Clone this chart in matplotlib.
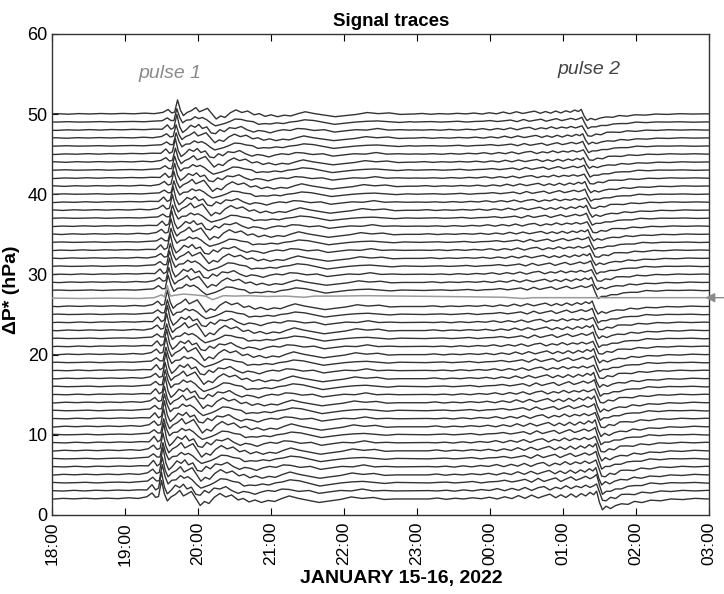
import numpy as np
import matplotlib
matplotlib.use("Agg")
import matplotlib.pyplot as plt

plt.rcParams['font.family'] = ['Liberation Sans', 'DejaVu Sans']

# hours after 18:00 on Jan 15
tick_hours = [0, 1, 2, 3, 4, 5, 6, 7, 8, 9]
tick_labels = ["18:00", "19:00", "20:00", "21:00", "22:00",
               "23:00", "00:00", "01:00", "02:00", "03:00"]

# trace offsets (hPa), bottom to top
baselines = [2, 3, 4, 5, 6, 7, 8, 9, 10,
             11, 12, 13, 14, 15, 16, 17, 18, 19, 20,
             21, 22, 23, 24, 25, 26, 27, 28, 29, 30,
             31, 32, 33, 34, 35, 36, 37, 38, 39, 40,
             41, 42, 43, 44, 45, 46, 47, 48, 49, 50]
gray_idx = 25  # highlighted trace (offset 27)

# peak time of pulse 1 / pulse 2 on each trace (hours after 18:00)
arrival1 = [1.50, 1.50, 1.51, 1.51, 1.52, 1.52, 1.52, 1.53, 1.53,
            1.53, 1.54, 1.54, 1.54, 1.55, 1.55, 1.55, 1.56, 1.56, 1.56,
            1.57, 1.57, 1.57, 1.58, 1.58, 1.58, 1.59, 1.59, 1.60, 1.61,
            1.61, 1.62, 1.62, 1.63, 1.63, 1.64, 1.65, 1.65, 1.66, 1.67,
            1.67, 1.68, 1.68, 1.69, 1.69, 1.70, 1.70, 1.71, 1.71, 1.72]
arrival2 = [7.46, 7.46, 7.46, 7.45, 7.45, 7.45, 7.45, 7.44, 7.44,
            7.44, 7.44, 7.43, 7.43, 7.43, 7.43, 7.42, 7.42, 7.42, 7.42,
            7.41, 7.41, 7.41, 7.41, 7.40, 7.40, 7.40, 7.40, 7.39, 7.39,
            7.38, 7.37, 7.36, 7.35, 7.34, 7.33, 7.32, 7.32, 7.31, 7.30,
            7.30, 7.29, 7.29, 7.28, 7.28, 7.27, 7.27, 7.26, 7.26, 7.25]
amp1 = [1.25, 1.2, 1.3, 1.2, 1.25, 1.15, 1.2, 1.25, 1.15,
        1.2, 1.15, 1.2, 1.1, 1.15, 1.2, 1.1, 1.15, 1.1, 1.15,
        1.1, 1.05, 1.15, 1.1, 1.05, 1.1, 1.05, 1.1, 1.0, 1.05,
        1.1, 1.0, 1.05, 1.0, 1.05, 1.0, 0.95, 1.05, 1.0, 0.95,
        1.0, 0.95, 1.0, 0.95, 1.0, 0.95, 0.9, 1.0, 0.95, 0.95]
amp2 = [1.5, 1.45, 1.5, 1.4, 1.45, 1.35, 1.4, 1.35, 1.3,
        1.35, 1.3, 1.25, 1.3, 1.2, 1.25, 1.2, 1.15, 1.2, 1.15,
        1.1, 1.15, 1.1, 1.05, 1.1, 1.05, 1.0, 1.05, 1.0, 1.0,
        1.0, 0.95, 1.0, 0.95, 0.9, 0.95, 0.9, 0.95, 0.9, 0.9,
        0.9, 0.85, 0.9, 0.85, 0.9, 0.85, 0.85, 0.9, 0.85, 0.9]

# pulse 1 waveform, hours relative to peak, three observed shapes
pulse1_t = [-1.8, -1.65, -1.5, -1.35, -1.2,
            -1.05, -0.9, -0.75, -0.6, -0.45,
            -0.32, -0.2,
            -0.13, -0.08, -0.04,
            0.0, 0.04, 0.08, 0.13, 0.19,
            0.25, 0.30, 0.35, 0.41, 0.47,
            0.53, 0.59, 0.65, 0.72, 0.80,
            0.88, 0.96, 1.05, 1.12, 1.20,
            1.28, 1.37, 1.46, 1.55, 1.65,
            1.75, 1.88, 2.02, 2.16, 2.30,
            2.45, 2.60, 2.75, 2.90, 3.05,
            3.20]
pulse1_a = [0.00, 0.05, -0.02, 0.06, 0.01,
            0.07, 0.02, 0.08, 0.03, 0.12,
            0.05, 0.22,
            0.60, 0.15, 0.25,
            1.85, 0.50, -0.20, 0.20, 0.45,
            0.85, 0.30, 0.50, 0.75, 0.05,
            -0.65, -0.25, -0.45, 0.15, 0.55,
            0.20, 0.40, -0.10, 0.05, -0.30,
            -0.10, -0.35, -0.15, -0.25, 0.05,
            0.30, 0.05, -0.15, -0.35, -0.20,
            -0.05, 0.20, 0.05, 0.15, -0.05,
            0.00]
pulse1_b = [0.00, -0.04, 0.03, -0.01, 0.06,
            0.00, 0.07, 0.03, 0.09, 0.05,
            0.12, 0.10,
            0.65, 0.10, 0.30,
            1.95, 0.40, -0.30, 0.05, 0.60,
            0.35, 0.70, 0.20, 0.40, -0.35,
            -0.45, 0.05, -0.20, 0.30, 0.20,
            0.45, 0.05, -0.25, -0.05, -0.15,
            -0.35, -0.10, 0.05, -0.05, 0.20,
            0.15, -0.05, 0.05, -0.25, -0.10,
            0.05, 0.00, 0.20, 0.00, 0.05,
            0.00]
pulse1_c = [0.02, 0.00, 0.05, 0.00, 0.02,
            0.06, 0.00, 0.05, 0.08, 0.04,
            0.12, 0.18,
            0.55, 0.20, 0.20,
            1.75, 0.60, -0.10, 0.25, 0.30,
            0.70, 0.45, 0.60, 0.30, -0.15,
            -0.50, -0.35, -0.20, 0.05, 0.40,
            0.35, 0.15, 0.05, -0.30, -0.20,
            -0.25, -0.10, -0.20, 0.00, 0.10,
            0.30, 0.20, -0.05, -0.30, -0.15,
            0.00, 0.10, 0.15, 0.05, -0.05,
            0.05]

# pulse 2 waveform, hours relative to peak before the drop
pulse2_t = [-2.30, -2.18, -2.06, -1.94, -1.82,
            -1.70, -1.58, -1.47, -1.36, -1.26,
            -1.16, -1.07, -0.98, -0.89, -0.80,
            -0.72, -0.64, -0.56, -0.49, -0.42,
            -0.35, -0.28, -0.21, -0.15, -0.09,
            -0.04, 0.00, 0.04, 0.08, 0.13,
            0.19, 0.26, 0.34, 0.43, 0.52,
            0.62, 0.74, 0.88, 1.02, 1.18,
            1.35, 1.52, 1.70, 1.90]
pulse2_a = [0.00, 0.08, -0.03, 0.06, 0.00,
            0.10, 0.02, 0.14, 0.00, 0.18,
            0.03, 0.28, 0.05, 0.32, 0.08,
            0.25, 0.40, 0.10, 0.35, 0.12,
            0.42, 0.15, 0.45, 0.25, 0.55,
            0.35, 0.65, -0.30, -0.90, -0.60,
            -0.80, -0.55, -0.40, -0.45, -0.20,
            -0.30, -0.10, -0.15, 0.00, -0.05,
            0.05, 0.00, 0.03, 0.00]
pulse2_b = [0.03, 0.00, 0.06, -0.02, 0.09,
            0.00, 0.12, 0.04, 0.20, 0.02,
            0.22, 0.06, 0.30, 0.04, 0.28,
            0.38, 0.08, 0.32, 0.18, 0.45,
            0.20, 0.42, 0.28, 0.50, 0.30,
            0.45, 0.60, -0.10, -0.80, -0.85,
            -0.55, -0.65, -0.30, -0.28, -0.32,
            -0.10, -0.18, 0.00, -0.05, 0.05,
            0.00, 0.05, 0.00, 0.02]
pulse2_c = [0.00, 0.04, 0.07, 0.00, 0.05,
            0.12, 0.00, 0.09, 0.12, 0.22,
            0.08, 0.18, 0.30, 0.06, 0.38,
            0.12, 0.28, 0.42, 0.12, 0.32,
            0.50, 0.22, 0.38, 0.55, 0.35,
            0.50, 0.70, -0.20, -0.95, -0.70,
            -0.70, -0.50, -0.50, -0.28, -0.22,
            -0.22, 0.00, -0.08, 0.02, 0.00,
            0.04, -0.02, 0.02, 0.00]

# highlighted trace (absolute hours, hPa above its offset)
gray_t = [0.0, 0.4, 0.8, 1.2, 1.4, 1.50, 1.54, 1.58, 1.62, 1.68,
          1.80, 1.95, 2.10, 2.20, 2.35, 2.50, 2.70, 2.95, 3.20, 3.45,
          3.60, 3.90, 4.30, 4.80, 5.30, 5.80, 6.20, 6.45, 6.60, 7.00,
          7.40, 9.0]
gray_v = [0.05, 0.0, 0.05, 0.0, 0.1, 0.45, 0.2, 1.6, 0.3, 0.4,
          0.55, 0.45, 0.3, -0.15, 0.35, 0.3, 0.35, 0.25, 0.3, 0.15,
          0.3, 0.3, 0.35, 0.3, 0.25, 0.2, 0.15, 0.0, 0.1, 0.1,
          0.1, 0.1]

shapes1 = [pulse1_a, pulse1_b, pulse1_c]
shapes2 = [pulse2_a, pulse2_b, pulse2_c]

fig = plt.figure(figsize=(7.24, 5.94), dpi=100)
ax = fig.add_axes([0.0718, 0.133, 0.9075, 0.810])

for i, base in enumerate(baselines):
    if i == gray_idx:
        ax.plot(gray_t, base + np.array(gray_v), color='#9a9a9a', lw=1.1, zorder=3)
        continue
    k = i % 3
    x1 = arrival1[i] + np.array(pulse1_t)
    y1 = base + amp1[i] * np.array(shapes1[k])
    x2 = arrival2[i] + np.array(pulse2_t)
    y2 = base + amp2[i] * np.array(shapes2[k])
    ax.plot(np.concatenate([x1, x2]), np.concatenate([y1, y2]),
            color='#333333', lw=1.0, zorder=2)

ax.set_xlim(0, 9)
ax.set_ylim(0, 60)
ax.set_xticks(tick_hours)
ax.set_xticklabels(tick_labels, rotation=90, fontsize=12.5)
ax.set_yticks([0, 10, 20, 30, 40, 50, 60])
ax.tick_params(axis='y', labelsize=13, direction='in', length=4, pad=3)
ax.tick_params(axis='x', direction='in', length=5, top=True, pad=5)
for s in ax.spines.values():
    s.set_linewidth(1.0)
    s.set_color('#333333')

ax.set_title("Signal traces", fontsize=13.5, fontweight='bold', pad=6, x=0.516)
ax.set_xlabel("JANUARY 15-16, 2022", fontsize=14, fontweight='bold')
ax.xaxis.set_label_coords(0.531, -0.115)
ax.set_ylabel("\u0394P* (hPa)", fontsize=14, fontweight='bold')
ax.yaxis.set_label_coords(-0.048, 0.468)

ax.text(1.62, 55.1, "pulse 1", fontsize=14, style='italic', color='#8a8a8a',
        ha='center', va='center')
ax.text(7.36, 55.5, "pulse 2", fontsize=14, style='italic', color='#444444',
        ha='center', va='center')

ax.annotate('', xy=(8.95, 27.1), xytext=(9.25, 27.1), xycoords='data',
            annotation_clip=False,
            arrowprops=dict(arrowstyle='-|>', color='#8a8a8a', lw=1.0,
                            mutation_scale=14, shrinkA=0, shrinkB=0))

fig.savefig("out.png", dpi=100)
